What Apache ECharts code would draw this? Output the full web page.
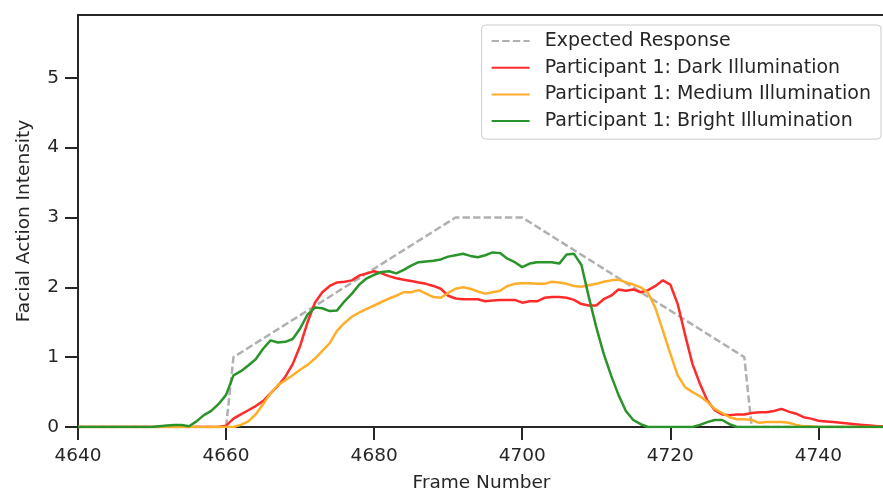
<!DOCTYPE html>
<html lang="en">
<head>
<meta charset="UTF-8">
<title>Facial Action Intensity</title>
<style>
  html, body { margin: 0; padding: 0; background: #fff; }
  #chart { width: 883px; height: 491px; }
</style>
</head>
<body>
<div id="chart"></div>
<script src="https://cdn.jsdelivr.net/npm/echarts@6/dist/echarts.min.js"></script>
<script>
// frame numbers shared by the three participant curves
var frames = [
  4640, 4641, 4642, 4643, 4644, 4645, 4646, 4647, 4648, 4649,
  4650, 4651, 4652, 4653, 4654, 4655, 4656, 4657, 4658, 4659,
  4660, 4661, 4662, 4663, 4664, 4665, 4666, 4667, 4668, 4669,
  4670, 4671, 4672, 4673, 4674, 4675, 4676, 4677, 4678, 4679,
  4680, 4681, 4682, 4683, 4684, 4685, 4686, 4687, 4688, 4689,
  4690, 4691, 4692, 4693, 4694, 4695, 4696, 4697, 4698, 4699,
  4700, 4701, 4702, 4703, 4704, 4705, 4706, 4707, 4708, 4709,
  4710, 4711, 4712, 4713, 4714, 4715, 4716, 4717, 4718, 4719,
  4720, 4721, 4722, 4723, 4724, 4725, 4726, 4727, 4728, 4729,
  4730, 4731, 4732, 4733, 4734, 4735, 4736, 4737, 4738, 4739,
  4740, 4741, 4742, 4743, 4744, 4745, 4746, 4747, 4748, 4749
];

var darkValues = [
  0, 0, 0, 0, 0, 0, 0, 0, 0, 0,
  0, 0, 0, 0, 0, 0, 0, 0, 0, 0,
  0.02, 0.12, 0.18, 0.24, 0.30, 0.37, 0.48, 0.59, 0.72, 0.90,
  1.16, 1.50, 1.78, 1.93, 2.02, 2.07, 2.08, 2.10, 2.17, 2.20,
  2.23, 2.20, 2.16, 2.13, 2.11, 2.09, 2.07, 2.05, 2.02, 1.98,
  1.88, 1.84, 1.83, 1.83, 1.83, 1.80, 1.81, 1.82, 1.82, 1.82,
  1.78, 1.80, 1.80, 1.85, 1.86, 1.86, 1.85, 1.82, 1.76, 1.74,
  1.74, 1.83, 1.88, 1.97, 1.95, 1.97, 1.93, 1.96, 2.02, 2.10,
  2.04, 1.76, 1.32, 0.90, 0.62, 0.38, 0.24, 0.18, 0.17, 0.18,
  0.18, 0.20, 0.21, 0.21, 0.23, 0.26, 0.22, 0.19, 0.14, 0.12,
  0.09, 0.08, 0.07, 0.06, 0.05, 0.04, 0.03, 0.02, 0.01, 0.01
];

var mediumValues = [
  0, 0, 0, 0, 0, 0, 0, 0, 0, 0,
  0, 0, 0, 0, 0, 0, 0, 0, 0, 0,
  0, 0, 0.03, 0.08, 0.18, 0.33, 0.48, 0.60, 0.67, 0.74,
  0.82, 0.89, 0.98, 1.09, 1.20, 1.38, 1.49, 1.58, 1.64, 1.69,
  1.74, 1.79, 1.84, 1.88, 1.93, 1.93, 1.96, 1.91, 1.86, 1.85,
  1.92, 1.98, 2.00, 1.98, 1.94, 1.91, 1.93, 1.95, 2.02, 2.05,
  2.06, 2.06, 2.05, 2.05, 2.08, 2.07, 2.05, 2.02, 2.01, 2.03,
  2.05, 2.08, 2.10, 2.11, 2.07, 2.04, 2.00, 1.92, 1.70, 1.38,
  1.05, 0.74, 0.57, 0.50, 0.44, 0.36, 0.26, 0.20, 0.14, 0.11,
  0.11, 0.10, 0.06, 0.07, 0.07, 0.07, 0.06, 0.03, 0.01, 0.01,
  0, 0, 0, 0, 0, 0, 0, 0, 0, 0
];

var brightValues = [
  0, 0, 0, 0, 0, 0, 0, 0, 0, 0,
  0, 0.01, 0.02, 0.03, 0.03, 0.01, 0.08, 0.17, 0.23, 0.33,
  0.46, 0.74, 0.80, 0.88, 0.97, 1.12, 1.24, 1.21, 1.22, 1.26,
  1.41, 1.61, 1.71, 1.70, 1.66, 1.67, 1.80, 1.91, 2.04, 2.13,
  2.18, 2.22, 2.23, 2.20, 2.25, 2.31, 2.36, 2.37, 2.38, 2.40,
  2.44, 2.46, 2.48, 2.45, 2.43, 2.46, 2.50, 2.49, 2.41, 2.36,
  2.29, 2.34, 2.36, 2.36, 2.36, 2.34, 2.47, 2.48, 2.32, 1.86,
  1.43, 1.05, 0.74, 0.46, 0.23, 0.10, 0.04, 0, 0, 0,
  0, 0, 0, 0, 0.03, 0.07, 0.10, 0.10, 0.04, 0,
  0, 0, 0, 0, 0, 0, 0, 0, 0, 0,
  0, 0, 0, 0, 0, 0, 0, 0, 0, 0
];

// expected response: piecewise linear template
var expectedFrames = [4640, 4660, 4661, 4691, 4700, 4730, 4731, 4749];
var expectedValues = [0, 0, 1, 3, 3, 1, 0, 0];

var xTicks = [4640, 4660, 4680, 4700, 4720, 4740];
var yTicks = [0, 1, 2, 3, 4, 5];

var seriesNames = [
  'Expected Response',
  'Participant 1: Dark Illumination',
  'Participant 1: Medium Illumination',
  'Participant 1: Bright Illumination'
];

function pairs(xs, ys) {
  return xs.map(function (x, i) { return [x, ys[i]]; });
}

var ink = '#262626';
var font = 'DejaVu Sans';

var chart = echarts.init(document.getElementById('chart'), null, { renderer: 'canvas' });

chart.setOption({
  animation: false,
  backgroundColor: '#fff',
  grid: {
    left: 78, right: -2, top: 15, bottom: 64,
    outerBoundsMode: 'none',
    containLabel: false,
    show: true, borderColor: ink, borderWidth: 2, backgroundColor: 'transparent'
  },
  legend: {
    orient: 'vertical',
    right: 2,
    top: 25,
    padding: [6, 10, 8, 9],
    itemWidth: 38,
    itemHeight: 14,
    itemGap: 6.7,
    itemStyle: { opacity: 0 },
    backgroundColor: 'rgba(255,255,255,0.8)',
    borderColor: '#cccccc',
    borderWidth: 1,
    borderRadius: 4,
    textStyle: { fontFamily: font, fontSize: 19, color: ink, lineHeight: 20, padding: [0, 0, 0, 10] },
    data: seriesNames
  },
  xAxis: {
    type: 'value',
    min: 4640,
    max: 4749,
    name: 'Frame Number',
    nameLocation: 'middle',
    nameGap: 47,
    nameTextStyle: { fontFamily: font, fontSize: 18.5, color: ink },
    axisLine: { show: true, lineStyle: { color: ink, width: 2 } },
    axisTick: { show: true, length: 13, lineStyle: { color: ink, width: 2 }, customValues: xTicks },
    axisLabel: {
      fontFamily: font, fontSize: 18.5, color: ink, margin: 20, customValues: xTicks,
      formatter: function (v) { return String(v); }
    },
    splitLine: { show: false }
  },
  yAxis: {
    type: 'value',
    min: 0,
    max: 5.9,
    name: 'Facial Action Intensity',
    nameLocation: 'middle',
    nameGap: 44,
    nameTextStyle: { fontFamily: font, fontSize: 18.5, color: ink },
    axisLine: { show: true, lineStyle: { color: ink, width: 2 } },
    axisTick: { show: true, length: 13, lineStyle: { color: ink, width: 2 }, customValues: yTicks },
    axisLabel: {
      fontFamily: font, fontSize: 18.5, color: ink, margin: 19, customValues: yTicks,
      formatter: function (v) { return String(v); }
    },
    splitLine: { show: false }
  },
  series: [
    {
      name: seriesNames[0], type: 'line', symbol: 'none', showSymbol: false,
      data: pairs(expectedFrames, expectedValues),
      lineStyle: { color: '#b0b0b0', width: 2.5, type: [7.4, 3.2] },
      itemStyle: { color: '#b0b0b0' }
    },
    {
      name: seriesNames[1], type: 'line', symbol: 'none', showSymbol: false,
      data: pairs(frames, darkValues),
      lineStyle: { color: '#ff2b2b', width: 2.5 },
      itemStyle: { color: '#ff2b2b' }
    },
    {
      name: seriesNames[2], type: 'line', symbol: 'none', showSymbol: false,
      data: pairs(frames, mediumValues),
      lineStyle: { color: '#ffae29', width: 2.5 },
      itemStyle: { color: '#ffae29' }
    },
    {
      name: seriesNames[3], type: 'line', symbol: 'none', showSymbol: false,
      data: pairs(frames, brightValues),
      lineStyle: { color: '#2a942a', width: 2.5 },
      itemStyle: { color: '#2a942a' }
    }
  ]
});
</script>
</body>
</html>
